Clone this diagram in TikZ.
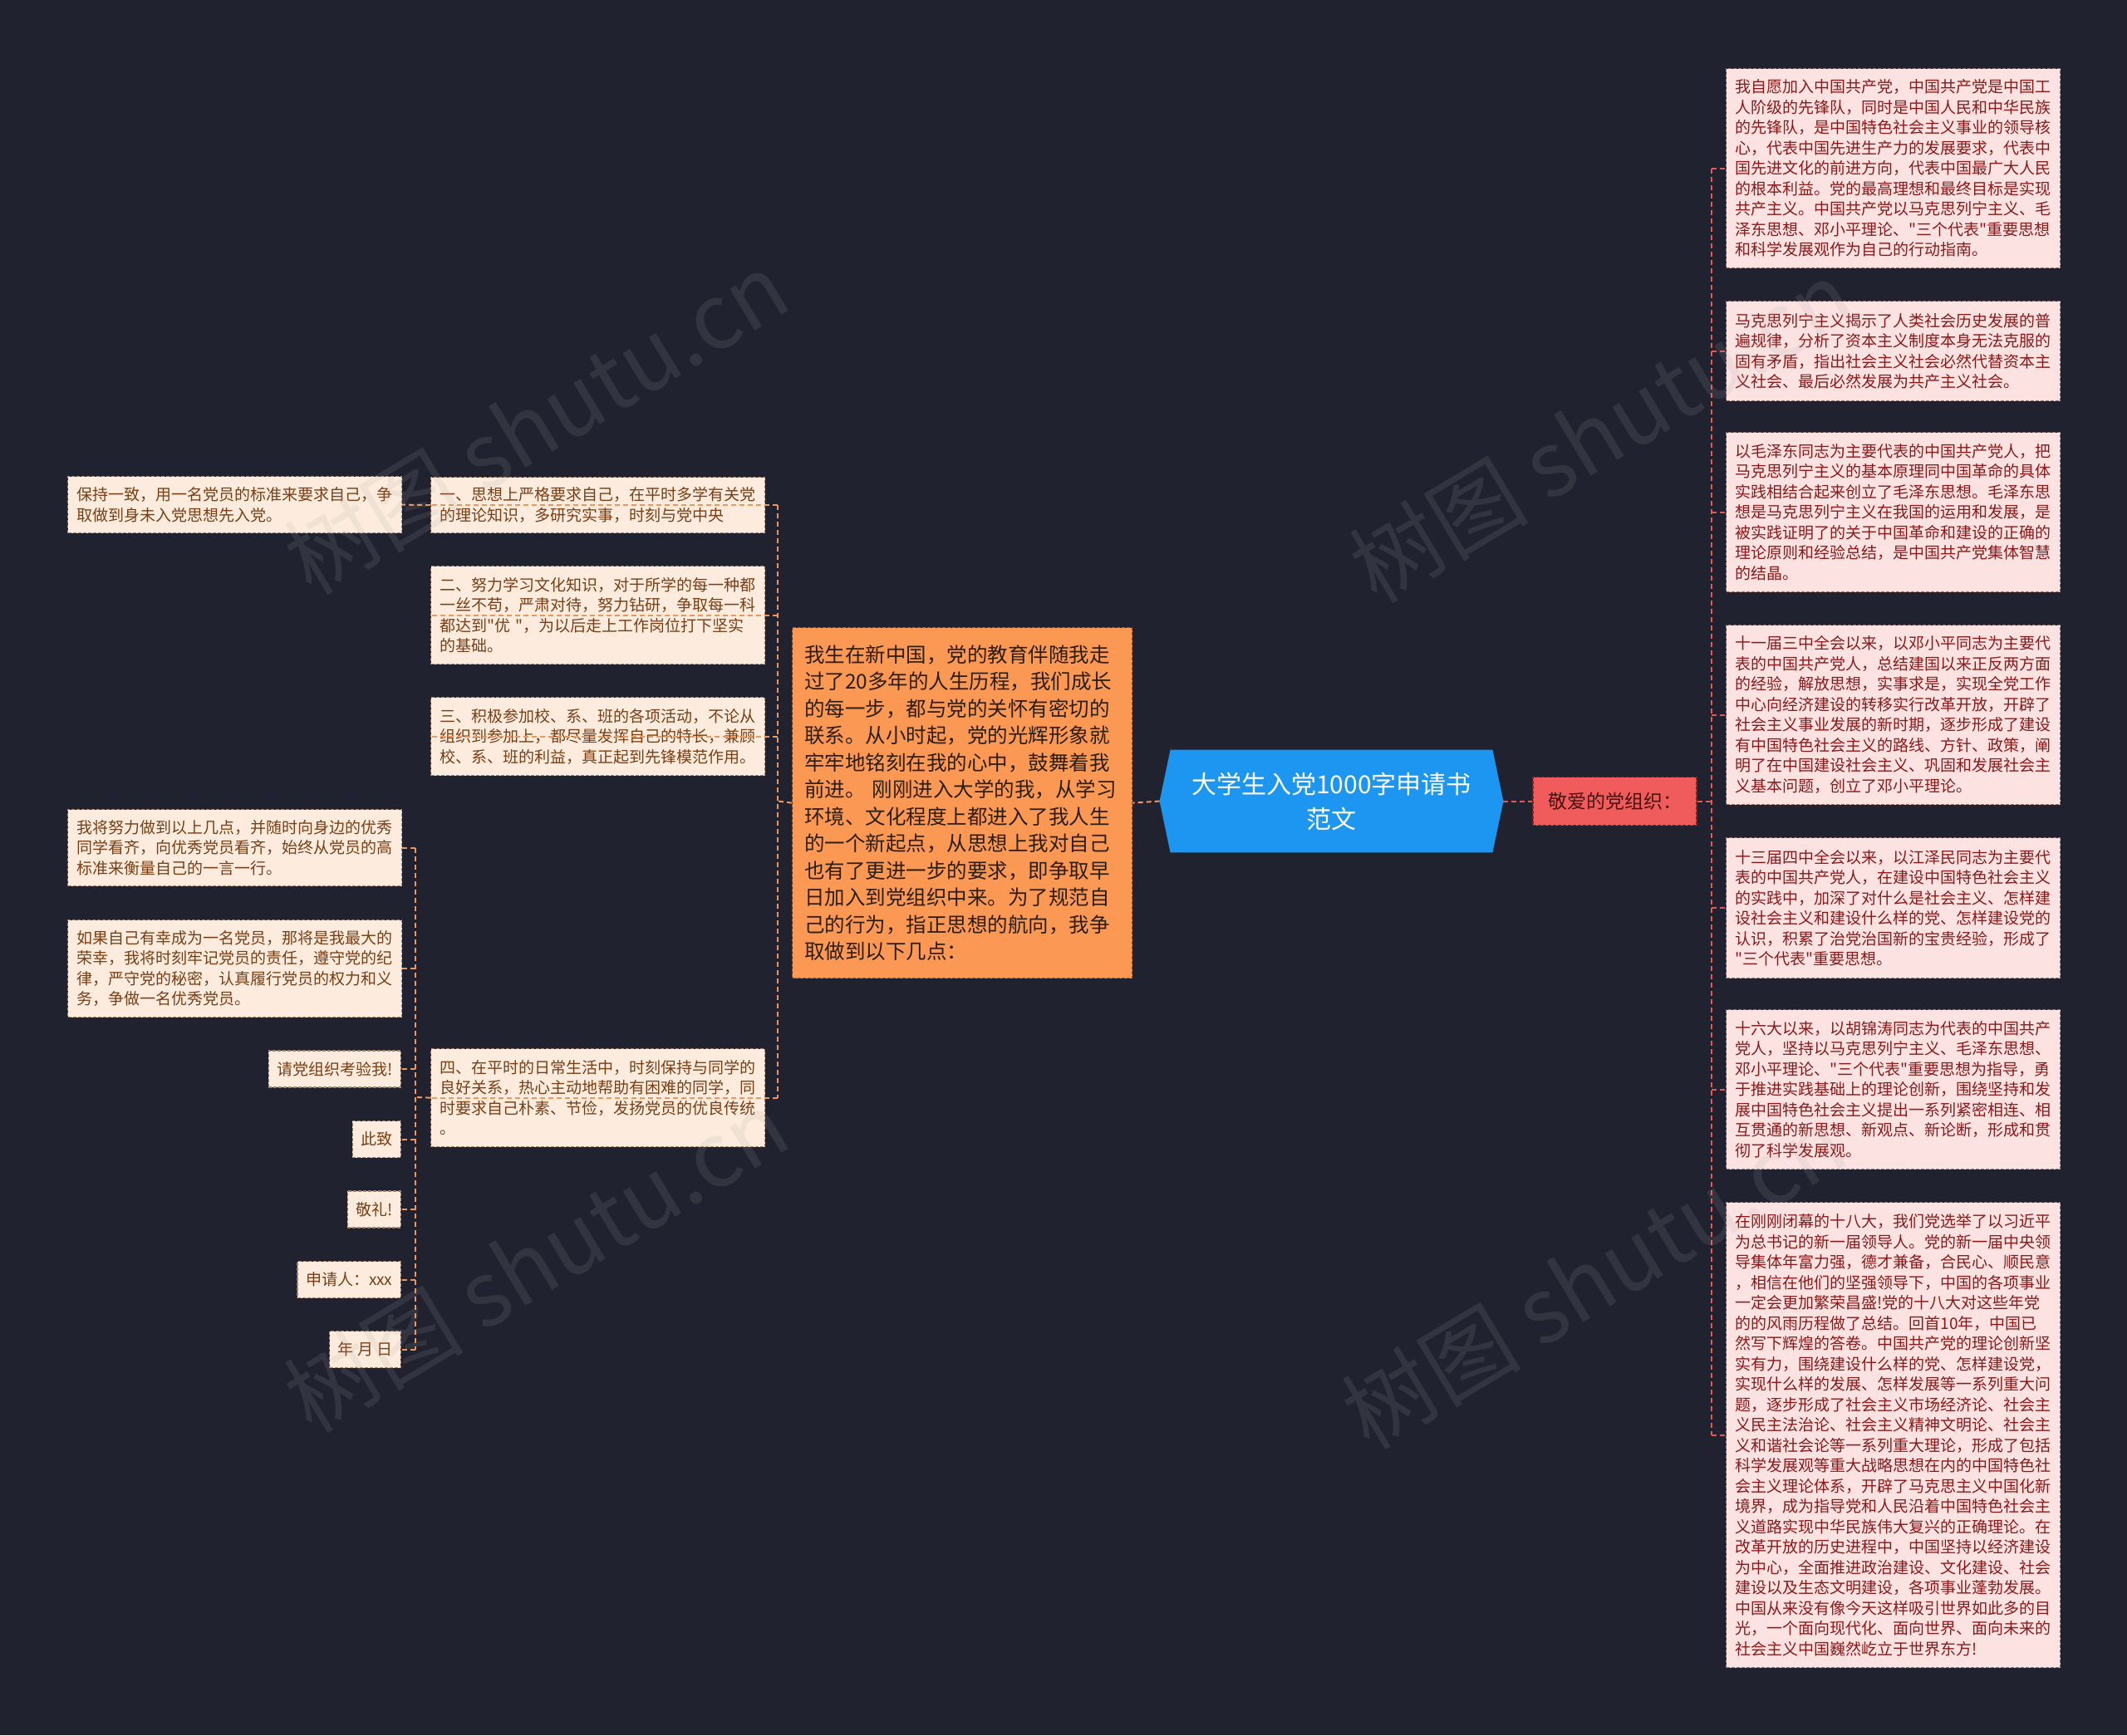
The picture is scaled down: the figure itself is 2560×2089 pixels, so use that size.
\documentclass[tikz,border=0pt]{standalone}
\usepackage{fontspec}
\setmainfont{Noto Sans CJK SC}[Ligatures=TeXOff]
\usetikzlibrary{calc}
\pgfdeclarelayer{bg}
\pgfsetlayers{bg,main}
\definecolor{bgc}{RGB}{32,34,47}
\definecolor{cblue}{RGB}{28,150,240}
\definecolor{redfill}{RGB}{240,92,92}
\definecolor{redtext}{RGB}{75,18,18}
\definecolor{redborder}{RGB}{130,35,35}
\definecolor{orfill}{RGB}{250,152,84}
\definecolor{ortext}{RGB}{45,30,20}
\definecolor{orborder}{RGB}{160,90,40}
\definecolor{rfill}{RGB}{253,226,226}
\definecolor{rtext}{RGB}{140,25,25}
\definecolor{rborder}{RGB}{150,115,115}
\definecolor{pfill}{RGB}{253,236,222}
\definecolor{ptext}{RGB}{122,62,20}
\definecolor{pborder}{RGB}{160,130,110}
\definecolor{rconnc}{RGB}{228,88,88}
\definecolor{lconnc}{RGB}{240,150,90}
\definecolor{wmc}{RGB}{165,165,165}
\tikzset{
  boxbase/.style={dash pattern=on 2pt off 1pt, line width=0.6pt, inner ysep=0pt},
  rbox/.style={boxbase, draw=rborder, fill=rfill, text=rtext, anchor=north west,
    text width=190pt, inner xsep=5.5pt, align=left,
    font=\fontsize{9.5pt}{12.25pt}\selectfont},
  pbox/.style={boxbase, draw=pborder, fill=pfill, text=ptext, anchor=north west,
    text width=190pt, inner xsep=5.5pt, align=left,
    font=\fontsize{9.5pt}{12.25pt}\selectfont},
  sbox/.style={boxbase, draw=pborder, fill=pfill, text=ptext, anchor=east,
    inner xsep=5pt, minimum height=22pt,
    font=\fontsize{9.5pt}{12.25pt}\selectfont},
  obox/.style={boxbase, draw=orborder, fill=orfill, text=ortext, anchor=north west,
    text width=190pt, inner xsep=7.25pt, align=left, minimum height=211pt,
    font=\fontsize{12.25pt}{16.25pt}\selectfont},
  rednode/.style={boxbase, draw=redborder, fill=redfill, text=redtext,
    minimum width=98.5pt, minimum height=29pt, inner xsep=0pt,
    font=\fontsize{11.5pt}{14pt}\selectfont},
  cnode/.style={text=white, align=center, minimum width=206.5pt, minimum height=61.5pt,
    inner sep=0pt, font=\fontsize{15pt}{21pt}\selectfont},
  rconn/.style={draw=rconnc, line width=1pt, dash pattern=on 3pt off 2pt},
  lconn/.style={draw=lconnc, line width=1pt, dash pattern=on 3pt off 2pt},
  wm/.style={text=wmc, opacity=0.14, rotate=31, font=\fontsize{54pt}{60pt}\selectfont}
}
\begin{document}
\begin{tikzpicture}[x=0.5pt,y=-0.5pt]
\begin{pgfonlayer}{bg}
\fill[bgc] (0,0) rectangle (2560,2089);
\end{pgfonlayer}
\useasboundingbox (0,0) rectangle (2560,2089);

% central node
\node[cnode] (c) at (1602.5,964.5) {大学生入党1000字申请书\\范文};
\begin{pgfonlayer}{bg}
\fill[cblue] (c.west) -- ([xshift=6.5pt]c.north west) -- ([xshift=-6.5pt]c.north east)
  -- (c.east) -- ([xshift=-6.5pt]c.south east) -- ([xshift=6.5pt]c.south west) -- cycle;
\end{pgfonlayer}

% right side
\node[rednode] (red) at (1943.5,964.5) {敬爱的党组织：};

\node[rbox, minimum height=120pt] (r1) at (2077,82) {我自愿加入中国共产党，中国共产党是中国工\\
人阶级的先锋队，同时是中国人民和中华民族\\
的先锋队，是中国特色社会主义事业的领导核\\
心，代表中国先进生产力的发展要求，代表中\\
国先进文化的前进方向，代表中国最广大人民\\
的根本利益。党的最高理想和最终目标是实现\\
共产主义。中国共产党以马克思列宁主义、毛\\
泽东思想、邓小平理论、"三个代表"重要思想\\
和科学发展观作为自己的行动指南。};

\node[rbox, minimum height=60pt] (r2) at (2077,362) {马克思列宁主义揭示了人类社会历史发展的普\\
遍规律，分析了资本主义制度本身无法克服的\\
固有矛盾，指出社会主义社会必然代替资本主\\
义社会、最后必然发展为共产主义社会。};

\node[rbox, minimum height=96pt] (r3) at (2077,520) {以毛泽东同志为主要代表的中国共产党人，把\\
马克思列宁主义的基本原理同中国革命的具体\\
实践相结合起来创立了毛泽东思想。毛泽东思\\
想是马克思列宁主义在我国的运用和发展，是\\
被实践证明了的关于中国革命和建设的正确的\\
理论原则和经验总结，是中国共产党集体智慧\\
的结晶。};

\node[rbox, minimum height=108pt] (r4) at (2077,752) {十一届三中全会以来，以邓小平同志为主要代\\
表的中国共产党人，总结建国以来正反两方面\\
的经验，解放思想，实事求是，实现全党工作\\
中心向经济建设的转移实行改革开放，开辟了\\
社会主义事业发展的新时期，逐步形成了建设\\
有中国特色社会主义的路线、方针、政策，阐\\
明了在中国建设社会主义、巩固和发展社会主\\
义基本问题，创立了邓小平理论。};

\node[rbox, minimum height=84.5pt] (r5) at (2077,1008) {十三届四中全会以来，以江泽民同志为主要代\\
表的中国共产党人，在建设中国特色社会主义\\
的实践中，加深了对什么是社会主义、怎样建\\
设社会主义和建设什么样的党、怎样建设党的\\
认识，积累了治党治国新的宝贵经验，形成了\\
"三个代表"重要思想。};

\node[rbox, minimum height=96pt] (r6) at (2077,1215) {十六大以来，以胡锦涛同志为代表的中国共产\\
党人，坚持以马克思列宁主义、毛泽东思想、\\
邓小平理论、"三个代表"重要思想为指导，勇\\
于推进实践基础上的理论创新，围绕坚持和发\\
展中国特色社会主义提出一系列紧密相连、相\\
互贯通的新思想、新观点、新论断，形成和贯\\
彻了科学发展观。};

\node[rbox, minimum height=280pt] (r7) at (2077,1447) {在刚刚闭幕的十八大，我们党选举了以习近平\\
为总书记的新一届领导人。党的新一届中央领\\
导集体年富力强，德才兼备，合民心、顺民意\\
，相信在他们的坚强领导下，中国的各项事业\\
一定会更加繁荣昌盛!党的十八大对这些年党\\
的的风雨历程做了总结。回首10年，中国已\\
然写下辉煌的答卷。中国共产党的理论创新坚\\
实有力，围绕建设什么样的党、怎样建设党，\\
实现什么样的发展、怎样发展等一系列重大问\\
题，逐步形成了社会主义市场经济论、社会主\\
义民主法治论、社会主义精神文明论、社会主\\
义和谐社会论等一系列重大理论，形成了包括\\
科学发展观等重大战略思想在内的中国特色社\\
会主义理论体系，开辟了马克思主义中国化新\\
境界，成为指导党和人民沿着中国特色社会主\\
义道路实现中华民族伟大复兴的正确理论。在\\
改革开放的历史进程中，中国坚持以经济建设\\
为中心，全面推进政治建设、文化建设、社会\\
建设以及生态文明建设，各项事业蓬勃发展。\\
中国从来没有像今天这样吸引世界如此多的目\\
光，一个面向现代化、面向世界、面向未来的\\
社会主义中国巍然屹立于世界东方!};

% left side
\node[obox] (o) at (953,755) {我生在新中国，党的教育伴随我走\\
过了20多年的人生历程，我们成长\\
的每一步，都与党的关怀有密切的\\
联系。从小时起，党的光辉形象就\\
牢牢地铭刻在我的心中，鼓舞着我\\
前进。~刚刚进入大学的我，从学习\\
环境、文化程度上都进入了我人生\\
的一个新起点，从思想上我对自己\\
也有了更进一步的要求，即争取早\\
日加入到党组织中来。为了规范自\\
己的行为，指正思想的航向，我争\\
取做到以下几点：};

\node[pbox, minimum height=33.5pt] (m1) at (518,574) {一、思想上严格要求自己，在平时多学有关党\\
的理论知识，多研究实事，时刻与党中央};
\node[pbox, minimum height=59pt] (m2) at (518,681) {二、努力学习文化知识，对于所学的每一种都\\
一丝不苟，严肃对待，努力钻研，争取每一科\\
都达到"优~"，为以后走上工作岗位打下坚实\\
的基础。};
\node[pbox, minimum height=47pt] (m3) at (518,839) {三、积极参加校、系、班的各项活动，不论从\\
组织到参加上，都尽量发挥自己的特长，兼顾\\
校、系、班的利益，真正起到先锋模范作用。};
\node[pbox, minimum height=59pt] (m4) at (518,1262) {四、在平时的日常生活中，时刻保持与同学的\\
良好关系，热心主动地帮助有困难的同学，同\\
时要求自己朴素、节俭，发扬党员的优良传统\\
。};

\node[pbox, minimum height=34pt] (l0) at (81,573) {保持一致，用一名党员的标准来要求自己，争\\
取做到身未入党思想先入党。};
\node[pbox, minimum height=46pt] (l1) at (81,974) {我将努力做到以上几点，并随时向身边的优秀\\
同学看齐，向优秀党员看齐，始终从党员的高\\
标准来衡量自己的一言一行。};
\node[pbox, minimum height=58.5pt] (l2) at (81,1107) {如果自己有幸成为一名党员，那将是我最大的\\
荣幸，我将时刻牢记党员的责任，遵守党的纪\\
律，严守党的秘密，认真履行党员的权力和义\\
务，争做一名优秀党员。};
\node[sbox] (l3) at (483,1287) {请党组织考验我!};
\node[sbox] (l4) at (483,1371.5) {此致};
\node[sbox] (l5) at (483,1456) {敬礼!};
\node[sbox] (l6) at (483,1540.5) {申请人：xxx};
\node[sbox] (l7) at (483,1624.5) {年 月 日};

% connectors right
\draw[rconn] (c.east) -- (red.west);
\coordinate (rb) at (2060,964.5);
\draw[rconn] (red.east) -- (rb);
\draw[rconn] (rb |- r1.west) -- (rb |- r7.west);
\foreach \n in {r1,r2,r3,r4,r5,r6,r7}
  \draw[rconn] (rb |- \n.west) -- (\n.west);

% connectors left
\draw[lconn] (c.west) -- (o.east);
\coordinate (mb) at (936,964.5);
\draw[lconn] (o.west) -- (mb);
\draw[lconn] (mb |- m1.west) -- (mb |- m4.west);
\foreach \n in {m1,m2,m3,m4}
  \draw[lconn] (mb |- \n.west) -- (\n.west);
\draw[lconn] (m1.west) -- (l0.east);
\coordinate (lb) at (500,1321);
\draw[lconn] (m4.west) -- (lb);
\draw[lconn] (lb |- l1.east) -- (lb |- l7.east);
\foreach \n in {l1,l2,l3,l4,l5,l6,l7}
  \draw[lconn] (lb |- \n.east) -- (\n.east);

% watermarks
\node[wm] (w1) at (645,509) {树图 shutu.cn};
\node[wm] (w2) at (1927,519) {树图 shutu.cn};
\node[wm] (w3) at (645,1518) {树图 shutu.cn};
\node[wm] (w4) at (1918,1538) {树图 shutu.cn};
\end{tikzpicture}
\end{document}
